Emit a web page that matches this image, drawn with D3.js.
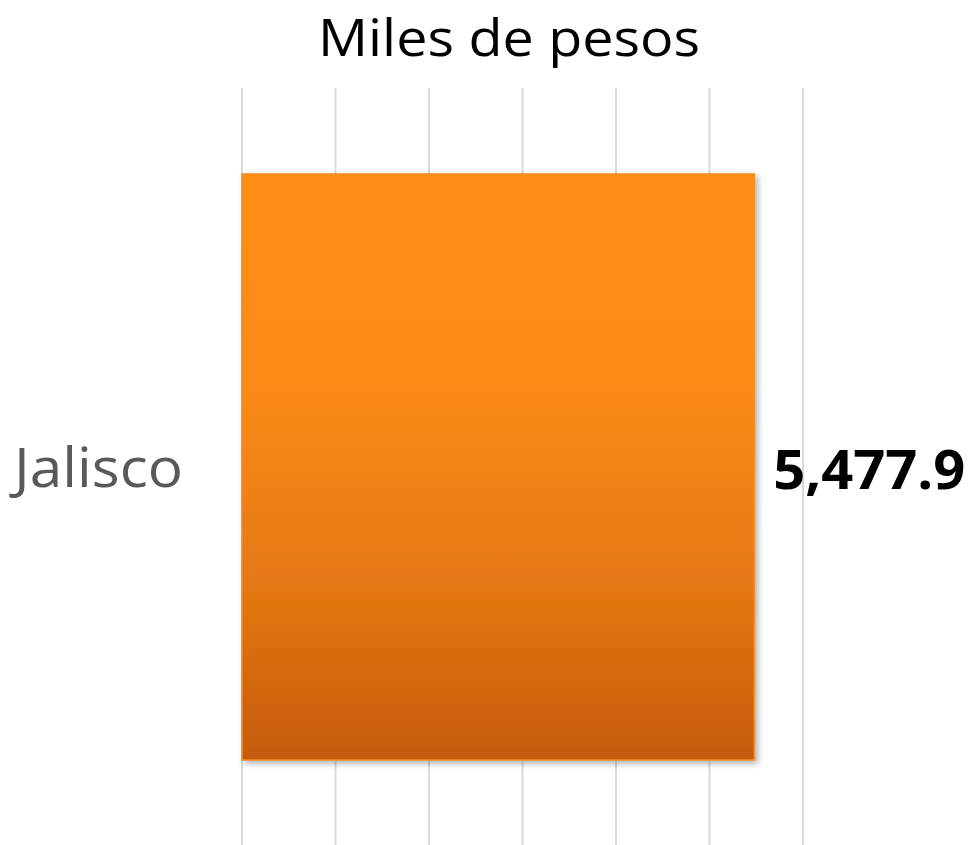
<!DOCTYPE html>
<html><head><meta charset="utf-8">
<script src="https://cdn.jsdelivr.net/npm/d3@7"></script>
<style>body{margin:0;background:#fff;}svg{display:block;}</style>
</head><body>
<svg id="c" width="968" height="845"></svg>
<script>
const categories = ["Jalisco"];
const values = [5477.9];
const tickValues = [0, 1000, 2000, 3000, 4000, 5000, 6000];
const title = "Miles de pesos";

const svg = d3.select("#c");
const W = 968, H = 845;
const x = d3.scaleLinear().domain([0, 6000]).range([242, 803]);
const y = d3.scaleBand().domain(categories).range([174, 760]).paddingInner(0).paddingOuter(0);

const defs = svg.append("defs");
const g = defs.append("linearGradient").attr("id","gr").attr("x1",0).attr("y1",0).attr("x2",0).attr("y2",1);
g.append("stop").attr("offset","0%").attr("stop-color","#FF8E19");
g.append("stop").attr("offset","35%").attr("stop-color","#FC8B18");
g.append("stop").attr("offset","70%").attr("stop-color","#E57812");
g.append("stop").attr("offset","100%").attr("stop-color","#C45B0A");
const f = defs.append("filter").attr("id","sh").attr("x","-5%").attr("y","-5%").attr("width","115%").attr("height","115%");
f.append("feDropShadow").attr("dx",3).attr("dy",3).attr("stdDeviation",3).attr("flood-color","#000").attr("flood-opacity",0.3);

// gridlines
svg.append("g").selectAll("line").data(tickValues).join("line")
  .attr("x1", d => x(d)).attr("x2", d => x(d))
  .attr("y1", 88).attr("y2", H)
  .attr("stroke", "#d9d9d9").attr("stroke-width", 2);

// bars
svg.append("g").selectAll("rect").data(values).join("rect")
  .attr("x", x(0)).attr("y", (d,i) => y(categories[i]))
  .attr("width", d => x(d) - x(0)).attr("height", y.bandwidth())
  .attr("fill", "url(#gr)").attr("stroke","#F58A22").attr("stroke-width",1.5)
  .attr("filter","url(#sh)");

// title
svg.append("text").attr("x", 509).attr("y", 56).attr("text-anchor","middle")
  .attr("font-family","Open Sans, sans-serif").attr("font-size",52).attr("fill","#000")
  .attr("textLength",382).attr("lengthAdjust","spacingAndGlyphs").text(title);

// category labels
svg.append("g").selectAll("text").data(categories).join("text")
  .attr("x", 183).attr("y", d => y(d) + y.bandwidth()/2 + 20).attr("text-anchor","end")
  .attr("font-family","Open Sans, sans-serif").attr("font-size",54).attr("fill","#595959")
  .attr("textLength",169).attr("lengthAdjust","spacingAndGlyphs").text(d => d);

// value labels
svg.append("g").selectAll("text").data(values).join("text")
  .attr("x", d => x(d) + 19).attr("y", (d,i) => y(categories[i]) + y.bandwidth()/2 + 22)
  .attr("font-family","Open Sans, sans-serif").attr("font-weight","bold").attr("font-size",54).attr("fill","#000")
  .attr("textLength",192).attr("lengthAdjust","spacingAndGlyphs").text(d => d3.format(",.1f")(d));
</script>
</body></html>
